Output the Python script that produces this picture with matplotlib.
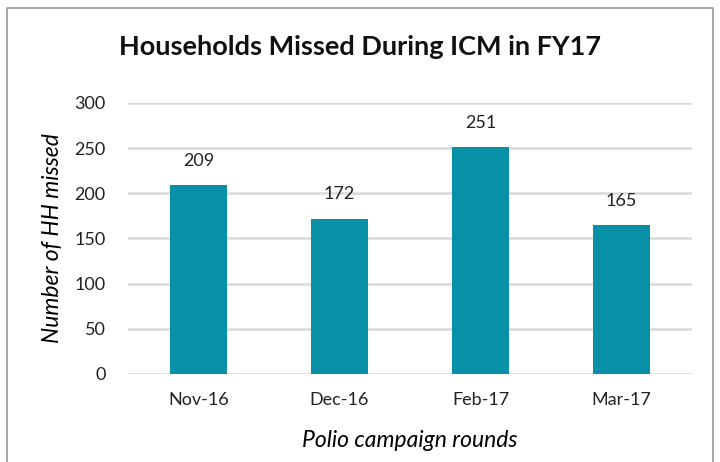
import matplotlib
matplotlib.use("Agg")
import matplotlib.pyplot as plt
from matplotlib.lines import Line2D

# data
rounds = ["Nov-16", "Dec-16", "Feb-17", "Mar-17"]
missed = [209, 172, 251, 165]
yticks = [0, 50, 100, 150, 200, 250, 300]

plt.rcParams["font.family"] = ["Lato", "DejaVu Sans"]

fig = plt.figure(figsize=(7.2, 4.62), dpi=100)
ax = fig.add_axes([128/720, 1 - 374/462, 564/720, 271/462])

bars = ax.bar(rounds, missed, width=0.4, color="#0891A6", zorder=3)
for b, v in zip(bars, missed):
    ax.text(b.get_x() + b.get_width()/2, v + 18, str(v), ha="center", va="bottom",
            fontsize=13, color="#222222")

ax.set_ylim(0, 300)
ax.set_xlim(-0.5, 3.5)
ax.set_yticks(yticks)
ax.yaxis.grid(True, color="#D9D9D9", linewidth=1.8, zorder=0)
for s in ax.spines.values():
    s.set_visible(False)
ax.tick_params(axis="both", length=0, labelsize=13, colors="#222222")
ax.tick_params(axis="y", pad=16)
ax.tick_params(axis="x", pad=13)

ax.set_ylabel("Number of HH missed", fontsize=16.5, style="italic", labelpad=8)
ax.set_xlabel("Polio campaign rounds", fontsize=16.5, style="italic", labelpad=16)

fig.text(0.5, 1 - 47/462, "Households Missed During ICM in FY17", ha="center", va="center",
         fontsize=19.5, fontweight="bold", color="#111111")

# outer border
fig.add_artist(Line2D([7/720, 7/720, 713/720, 713/720], [0, 1 - 8/462, 1 - 8/462, 0],
                      transform=fig.transFigure, color="#9A9A9A", linewidth=1.2))

fig.savefig("out.png", dpi=100)
